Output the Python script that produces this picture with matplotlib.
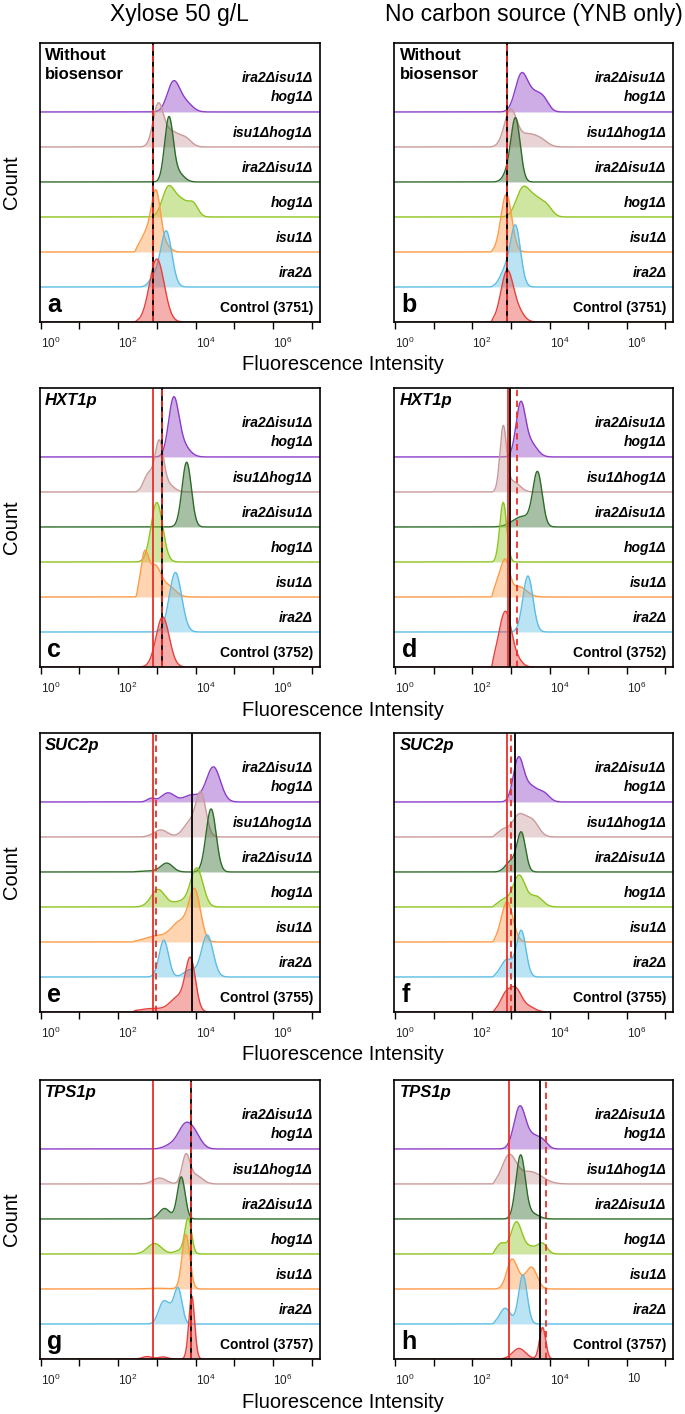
import numpy as np
import matplotlib
matplotlib.use("Agg")
import matplotlib.pyplot as plt
import matplotlib.transforms as mtransforms

plt.rcParams['font.family'] = ['Liberation Sans', 'DejaVu Sans']
plt.rcParams['mathtext.fontset'] = 'custom'
plt.rcParams['mathtext.rm'] = 'Liberation Sans'
plt.rcParams['mathtext.it'] = 'Liberation Sans:italic'
plt.rcParams['mathtext.bf'] = 'Liberation Sans:bold'

# strains from bottom row to top row
strains = ['Control', 'ira2Δ', 'isu1Δ', 'hog1Δ', 'ira2Δisu1Δ', 'isu1Δhog1Δ', 'ira2Δisu1Δ\nhog1Δ']
line_colors = ['#e8413c', '#5bbde6', '#ff9a45', '#8dc41e', '#2e6b2a', '#c99a9a', '#8c3cc8']

panel_letters = ['a', 'b', 'c', 'd', 'e', 'f', 'g', 'h']
row_titles = ['Without\nbiosensor', 'HXT1p', 'SUC2p', 'TPS1p']
control_ids = ['3751', '3752', '3755', '3757']
col_titles = ['Xylose 50 g/L', 'No carbon source (YNB only)']

# histogram peaks: (log10 position, log10 width, height in row units)
peaks_a = [
    [(3.0, 0.19, 1.8)],
    [(3.24, 0.145, 1.6), (2.92, 0.12, 0.25)],
    [(2.98, 0.12, 1.65), (2.72, 0.15, 0.5), (3.25, 0.12, 0.15)],
    [(3.28, 0.15, 0.7), (3.6, 0.22, 0.5), (3.95, 0.12, 0.28)],
    [(3.31, 0.11, 1.8), (3.55, 0.15, 0.25)],
    [(3.03, 0.13, 1.1), (3.35, 0.22, 0.45), (3.75, 0.15, 0.2)],
    [(3.43, 0.16, 0.85), (3.75, 0.17, 0.25)],
]
peaks_b = [
    [(2.9, 0.16, 1.45), (3.2, 0.15, 0.25)],
    [(3.12, 0.13, 1.7), (2.85, 0.14, 0.45)],
    [(2.88, 0.14, 1.65)],
    [(3.3, 0.17, 0.75), (3.65, 0.2, 0.5), (3.95, 0.14, 0.2)],
    [(3.12, 0.12, 1.8), (2.9, 0.12, 0.2)],
    [(2.99, 0.16, 1.05), (3.45, 0.22, 0.35), (3.8, 0.17, 0.15)],
    [(3.27, 0.16, 1.05), (3.6, 0.17, 0.45), (3.85, 0.14, 0.3)],
]
peaks_c = [
    [(3.15, 0.17, 1.43)],
    [(3.48, 0.16, 1.7)],
    [(2.68, 0.1, 1.15), (2.95, 0.15, 0.85), (3.3, 0.18, 0.3)],
    [(3.0, 0.15, 1.7)],
    [(3.77, 0.12, 1.85)],
    [(3.06, 0.11, 1.4), (2.78, 0.12, 0.5), (3.3, 0.15, 0.2)],
    [(3.43, 0.13, 1.55), (3.65, 0.18, 0.35)],
]
peaks_d = [
    [(2.88, 0.13, 1.3), (2.7, 0.12, 0.55), (3.1, 0.15, 0.3)],
    [(3.44, 0.13, 1.6)],
    [(2.88, 0.1, 0.75), (2.72, 0.12, 0.55), (3.2, 0.2, 0.3)],
    [(2.8, 0.09, 1.7)],
    [(3.69, 0.12, 1.5), (3.3, 0.25, 0.3)],
    [(2.8, 0.085, 1.8), (3.05, 0.17, 0.3)],
    [(3.25, 0.12, 1.45), (3.5, 0.17, 0.4)],
]
peaks_e = [
    [(3.87, 0.13, 1.45), (3.55, 0.2, 0.4), (2.9, 0.35, 0.1)],
    [(3.18, 0.12, 1.05), (4.3, 0.15, 1.2), (3.85, 0.15, 0.2)],
    [(3.98, 0.15, 1.4), (3.6, 0.22, 0.55), (3.0, 0.3, 0.17)],
    [(3.03, 0.18, 0.5), (4.03, 0.16, 1.1), (3.6, 0.2, 0.15)],
    [(4.4, 0.13, 1.8), (3.26, 0.15, 0.24), (2.9, 0.3, 0.03)],
    [(4.14, 0.13, 1.2), (3.85, 0.17, 0.4), (3.1, 0.18, 0.2)],
    [(4.46, 0.18, 1.0), (3.29, 0.17, 0.26), (2.85, 0.1, 0.1), (3.9, 0.2, 0.2)],
]
peaks_f = [
    [(3.12, 0.15, 0.62), (2.85, 0.14, 0.45), (3.45, 0.17, 0.15)],
    [(3.27, 0.12, 1.3), (2.9, 0.16, 0.5)],
    [(2.9, 0.15, 1.15)],
    [(3.21, 0.16, 0.9), (3.65, 0.17, 0.3), (2.8, 0.14, 0.2)],
    [(3.27, 0.11, 1.1), (3.0, 0.14, 0.3)],
    [(3.2, 0.17, 0.6), (3.55, 0.17, 0.45), (2.8, 0.14, 0.2)],
    [(3.19, 0.13, 1.15), (3.5, 0.2, 0.45), (3.87, 0.14, 0.2)],
]
peaks_g = [
    [(3.9, 0.075, 1.8), (2.75, 0.12, 0.07), (3.15, 0.12, 0.06)],
    [(3.55, 0.1, 1.0), (3.16, 0.12, 0.6), (3.35, 0.1, 0.3)],
    [(3.75, 0.1, 1.55), (3.0, 0.3, 0.02)],
    [(3.81, 0.085, 1.0), (2.94, 0.18, 0.3), (3.6, 0.14, 0.1)],
    [(3.63, 0.1, 1.2), (3.2, 0.14, 0.3)],
    [(3.75, 0.1, 0.78), (3.07, 0.17, 0.17), (4.0, 0.17, 0.25)],
    [(3.72, 0.18, 0.62), (3.98, 0.17, 0.35), (3.35, 0.17, 0.1)],
]
peaks_h = [
    [(3.82, 0.08, 0.9), (3.21, 0.17, 0.3)],
    [(3.31, 0.11, 1.4), (2.85, 0.14, 0.45)],
    [(3.02, 0.13, 0.8), (3.54, 0.14, 0.6), (3.25, 0.14, 0.2)],
    [(3.14, 0.14, 0.9), (2.75, 0.12, 0.3), (3.82, 0.12, 0.28), (3.5, 0.17, 0.2)],
    [(3.25, 0.12, 1.8), (3.55, 0.17, 0.15)],
    [(2.95, 0.18, 0.78), (3.5, 0.3, 0.35)],
    [(3.23, 0.15, 1.2), (3.6, 0.17, 0.35), (3.85, 0.12, 0.15)],
]
all_peaks = [peaks_a, peaks_b, peaks_c, peaks_d, peaks_e, peaks_f, peaks_g, peaks_h]

# lower gating limit of each panel (log10)
floors = [2.45, 2.5, 2.48, 2.52, 2.4, 2.55, 2.45, 2.55]

# reference lines (log10): red solid, black solid, red dashed
red_solid = [2.91, 2.90, 2.91, 2.93, 2.90, 2.90, 2.91, 2.95]
black_solid = [2.91, 2.90, 3.14, 2.97, 3.90, 3.11, 3.88, 3.76]
red_dashed = [2.91, 2.90, 3.14, 3.17, 2.99, 3.01, 3.88, 3.90]

W, H = 685, 1414
fig = plt.figure(figsize=(W / 100, H / 100), dpi=100)

col_left = [39.5, 394]
col_width = [280, 279]
row_top = [43, 388, 733, 1080]
panel_h = 279

lx = np.linspace(-0.2, 7.4, 2000)
xs = 10 ** lx

for p in range(8):
    r, c = divmod(p, 2)
    ax = fig.add_axes([col_left[c] / W, 1 - (row_top[r] + panel_h) / H,
                       col_width[c] / W, panel_h / H])
    for i in range(7):
        y = np.zeros_like(lx)
        for mu, sd, h in all_peaks[p][i]:
            y += h * np.exp(-0.5 * ((lx - mu) / sd) ** 2)
        y *= 1 / (1 + np.exp(-(lx - floors[p]) / 0.012))
        z = 20 - i
        ax.fill_between(xs, i, i + y, color=line_colors[i], alpha=0.42,
                        linewidth=0, zorder=z)
        ax.plot(xs, i + y, color=line_colors[i], lw=1.0, zorder=z + 0.5)

    ax.axvline(10 ** red_solid[p], color='#e8302a', lw=1.3, zorder=30)
    ax.axvline(10 ** black_solid[p], color='black', lw=1.3, zorder=31)
    ax.axvline(10 ** red_dashed[p], color='#e8302a', lw=1.3, ls=(0, (3.5, 2.5)), zorder=32)

    ax.set_xscale('log')
    ax.set_xlim(10 ** -0.03, 10 ** 7.2)
    ax.set_ylim(0, 7.97)
    ax.set_yticks([])
    ax.set_xticks([10 ** k for k in range(8)])
    last = r'$10^{6}$' if p != 7 else '10'
    ax.set_xticklabels([r'$10^{0}$', '', r'$10^{2}$', '', r'$10^{4}$', '', last, ''],
                       ha='left', fontsize=8.5, color='#222222')
    ax.tick_params(axis='x', which='major', direction='out', length=5, width=1, pad=5)
    ax.tick_params(axis='x', which='minor', direction='out', length=2.5, width=0.8)
    for s in ax.spines.values():
        s.set_linewidth(1.2)
        s.set_zorder(40)

    trans = mtransforms.blended_transform_factory(ax.transAxes, ax.transData)
    for i in range(6):
        name = strains[i] if i > 0 else 'Control (' + control_ids[r] + ')'
        ax.text(0.977, i + 0.4, name, transform=trans, ha='right', va='center',
                fontsize=10, fontweight='bold', style='normal' if i == 0 else 'italic',
                zorder=50)
    ax.text(0.977, 6.98, 'ira2Δisu1Δ', transform=trans, ha='right', va='center',
            fontsize=10, fontweight='bold', style='italic', zorder=50)
    ax.text(0.977, 6.42, 'hog1Δ', transform=trans, ha='right', va='center',
            fontsize=10, fontweight='bold', style='italic', zorder=50)

    ax.text(0.02, 0.982, row_titles[r], transform=ax.transAxes, ha='left', va='top',
            fontsize=12, fontweight='bold', style='normal' if r == 0 else 'italic',
            linespacing=1.3, zorder=50)
    ax.text(0.027, 0.062, panel_letters[p], transform=ax.transAxes, ha='left',
            va='center', fontsize=18, fontweight='bold', zorder=50)

for c in range(2):
    fig.text((col_left[c] + col_width[c] / 2) / W, 1 - 15 / H, col_titles[c],
             ha='center', va='center', fontsize=16.5)

for r in range(4):
    fig.text(0.5, 1 - (row_top[r] + panel_h + 43) / H, 'Fluorescence Intensity',
             ha='center', va='center', fontsize=14.5)
    fig.text(11 / W, 1 - (row_top[r] + panel_h / 2) / H, 'Count', rotation=90,
             ha='center', va='center', fontsize=14.5)

fig.savefig('out.png', dpi=100)
